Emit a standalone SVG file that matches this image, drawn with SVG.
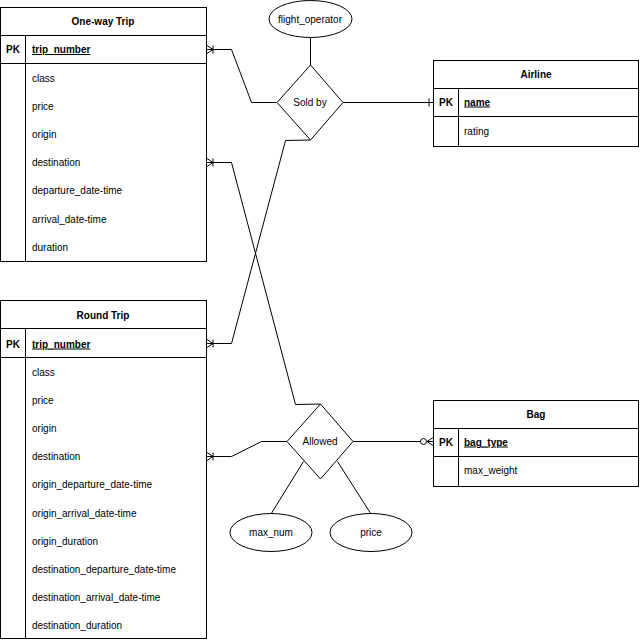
<svg xmlns="http://www.w3.org/2000/svg" width="640" height="640" viewBox="0 0 640 640">
<style>
text{font-family:"Liberation Sans",Arial,Helvetica,sans-serif;font-size:10px;fill:#000}
.h{font-weight:bold;text-anchor:middle}
.pk{font-weight:bold}
.u{font-weight:bold;text-decoration:underline}
.c{text-anchor:middle}
.box{fill:#fff;stroke:#000;stroke-width:1}
.ln{fill:none;stroke:#000;stroke-width:1}
</style>
<defs>
<marker id="oneMany" markerUnits="userSpaceOnUse" markerWidth="14" markerHeight="14" refX="0" refY="0" viewBox="-10 -7 14 14" orient="auto" overflow="visible">
<path d="M0,-4 L-6,0 L0,4 M0,0 L-6,0 M-6,-4 L-6,4" fill="none" stroke="#000"/>
</marker>
<marker id="one" markerUnits="userSpaceOnUse" markerWidth="14" markerHeight="14" refX="0" refY="0" viewBox="-10 -7 14 14" orient="auto" overflow="visible">
<path d="M-4,-4 L-4,4" fill="none" stroke="#000"/>
</marker>
<marker id="zeroMany" markerUnits="userSpaceOnUse" markerWidth="16" markerHeight="14" refX="0" refY="0" viewBox="-14 -7 16 14" orient="auto" overflow="visible">
<path d="M0,-4 L-6,0 L0,4 M0,0 L-6,0" fill="none" stroke="#000"/>
<circle cx="-9.5" cy="0" r="3" fill="#fff" stroke="#000"/>
</marker>
</defs>
<rect width="640" height="640" fill="#fff"/>

<g id="connectors">
<path class="ln" d="M276.5,102.5 L251.5,102.5 L231.5,49.5 L207,49.5" marker-end="url(#oneMany)"/>
<path class="ln" d="M343,102.5 L433,102.5" marker-end="url(#one)"/>
<path class="ln" d="M310.5,140 L285.5,140.5 L231.5,343.5 L207,343.5" marker-end="url(#oneMany)"/>
<path class="ln" d="M320.5,404 L295.5,404.5 L231.5,162.5 L207,162.5" marker-end="url(#oneMany)"/>
<path class="ln" d="M287,441.5 L261.5,441.5 L231.5,456.5 L207,456.5" marker-end="url(#oneMany)"/>
<path class="ln" d="M353,441.5 L433,441.5" marker-end="url(#zeroMany)"/>
<path class="ln" d="M310.5,37.5 L310.5,65"/>
<path class="ln" d="M271,514 L303.5,461.5"/>
<path class="ln" d="M371,514 L337.5,461.5"/>
</g>

<g id="one-way-trip">
<rect class="box" x="0.5" y="7.5" width="206" height="254"/>
<path class="ln" d="M0.5,35.5 H206.5 M0.5,63.5 H206.5 M25.5,35.5 V261.5"/>
<text class="h" x="103" y="25">One-way Trip</text>
<text class="pk" x="6" y="53">PK</text>
<text class="u" x="32" y="53">trip_number</text>
<text x="32" y="81.5">class</text>
<text x="32" y="109.5">price</text>
<text x="32" y="137.5">origin</text>
<text x="32" y="165.5">destination</text>
<text x="32" y="193.5">departure_date-time</text>
<text x="32" y="222.5">arrival_date-time</text>
<text x="32" y="250.5">duration</text>
</g>

<g id="round-trip">
<rect class="box" x="0.5" y="300.5" width="206" height="338"/>
<path class="ln" d="M0.5,328.5 H206.5 M0.5,357.5 H206.5 M25.5,328.5 V638.5"/>
<text class="h" x="103" y="318.5">Round Trip</text>
<text class="pk" x="6" y="347.5">PK</text>
<text class="u" x="32" y="347.5">trip_number</text>
<text x="32" y="375.5">class</text>
<text x="32" y="403.5">price</text>
<text x="32" y="431.5">origin</text>
<text x="32" y="459.5">destination</text>
<text x="32" y="487.5">origin_departure_date-time</text>
<text x="32" y="516.5">origin_arrival_date-time</text>
<text x="32" y="544.5">origin_duration</text>
<text x="32" y="572.5">destination_departure_date-time</text>
<text x="32" y="600.5">destination_arrival_date-time</text>
<text x="32" y="628.5">destination_duration</text>
</g>

<g id="airline">
<rect class="box" x="433.5" y="60.5" width="205" height="86"/>
<path class="ln" d="M433.5,88.5 H638.5 M433.5,116.5 H638.5 M458.5,88.5 V146.5"/>
<text class="h" x="536" y="77.5">Airline</text>
<text class="pk" x="439" y="105.5">PK</text>
<text class="u" x="464" y="105.5">name</text>
<text x="464" y="134.5">rating</text>
</g>

<g id="bag">
<rect class="box" x="433.5" y="400.5" width="205" height="86"/>
<path class="ln" d="M433.5,428.5 H638.5 M433.5,456.5 H638.5 M458.5,428.5 V486.5"/>
<text class="h" x="536" y="417.5">Bag</text>
<text class="pk" x="439" y="445.5">PK</text>
<text class="u" x="464" y="445.5">bag_type</text>
<text x="464" y="473.5">max_weight</text>
</g>

<g id="sold-by">
<path class="box" d="M310.5,65 L343,102.5 L310.5,140 L277,102.5 Z"/>
<text class="c" x="310" y="106">Sold by</text>
</g>

<g id="flight-operator">
<ellipse class="box" cx="310.5" cy="19" rx="41.5" ry="18.5"/>
<text class="c" x="310" y="22.5">flight_operator</text>
</g>

<g id="allowed">
<path class="box" d="M320.5,404 L353,441.5 L320.5,479 L287,441.5 Z"/>
<text class="c" x="320" y="445">Allowed</text>
</g>

<g id="max-num">
<ellipse class="box" cx="271" cy="532.5" rx="41" ry="19"/>
<text class="c" x="271" y="536">max_num</text>
</g>

<g id="price">
<ellipse class="box" cx="371" cy="532.5" rx="41" ry="19"/>
<text class="c" x="371" y="536">price</text>
</g>
</svg>
